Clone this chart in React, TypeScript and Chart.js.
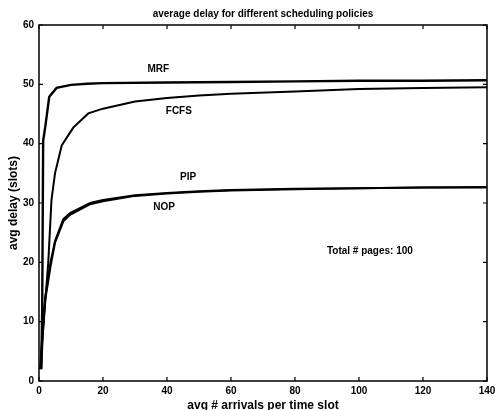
import { useEffect, useRef } from "react";
import { Chart, registerables } from "chart.js";

Chart.register(...registerables);

const titleText = "average delay for different scheduling policies";
const xTitle = "avg # arrivals per time slot";
const yTitle = "avg delay (slots)";

const xTicks = [0, 20, 40, 60, 80, 100, 120, 140];
const yTicks = [0, 10, 20, 30, 40, 50, 60];

const mrfX = [0.7, 1, 1.3, 2, 3.2, 5.5, 10, 15, 20, 40, 60, 80, 100, 120, 140];
const mrfY = [2, 12, 40.5, 43, 47.9, 49.4, 49.9, 50.1, 50.2, 50.3, 50.4, 50.5, 50.6, 50.6, 50.7];

const fcfsX = [0.7, 1.2, 1.9, 2.9, 3.9, 5, 7.1, 10.7, 15.4, 20, 30, 40, 50, 60, 80, 100, 120, 140];
const fcfsY = [2, 8, 13, 20, 30.5, 35, 39.7, 42.7, 45.1, 45.9, 47.1, 47.7, 48.1, 48.4, 48.8, 49.2, 49.4, 49.5];

const pipX = [0.4, 0.9, 1.9, 3.6, 5, 7.6, 9.7, 16, 20, 30, 40, 50, 60, 80, 100, 120, 140];
const pipY = [2, 6.5, 14, 20, 23.6, 27.3, 28.3, 30, 30.5, 31.3, 31.7, 32, 32.2, 32.4, 32.5, 32.6, 32.7];

const nopX = [0.4, 0.9, 1.9, 3.6, 5, 7.6, 9.7, 16, 20, 30, 40, 50, 60, 80, 100, 120, 140];
const nopY = [2, 6, 13.5, 19.3, 23.3, 26.9, 28, 29.8, 30.3, 31.2, 31.6, 31.9, 32.1, 32.3, 32.5, 32.6, 32.6];

const noteText = ["MRF", "FCFS", "PIP", "NOP", "Total # pages: 100"];
const noteX = [37.3, 43.7, 46.6, 39.1, 103.4];
const noteY = [52.5, 45.4, 34.3, 29.3, 21.8];

const FONT = '"Liberation Sans", Arial, Helvetica, sans-serif';

function pts(xs: number[], ys: number[]) {
  return xs.map((x, i) => ({ x, y: ys[i] }));
}

const framePlugin = {
  id: "frame",
  afterDatasetsDraw(chart: any) {
    const { ctx, chartArea: a, scales } = chart;
    const x = scales.x;
    const y = scales.y;
    ctx.save();
    ctx.strokeStyle = "#000";
    ctx.lineWidth = 1.5;
    ctx.strokeRect(a.left, a.top, a.right - a.left, a.bottom - a.top);
    ctx.lineWidth = 1.2;
    ctx.beginPath();
    const tl = 4;
    for (const v of xTicks) {
      const px = x.getPixelForValue(v);
      ctx.moveTo(px, a.bottom);
      ctx.lineTo(px, a.bottom - tl);
      ctx.moveTo(px, a.top);
      ctx.lineTo(px, a.top + tl);
    }
    for (const v of yTicks) {
      const py = y.getPixelForValue(v);
      ctx.moveTo(a.left, py);
      ctx.lineTo(a.left + tl, py);
      ctx.moveTo(a.right, py);
      ctx.lineTo(a.right - tl, py);
    }
    ctx.stroke();

    ctx.fillStyle = "#000";
    ctx.textAlign = "center";
    ctx.textBaseline = "middle";
    ctx.font = "bold 10px " + FONT;
    for (let i = 0; i < noteText.length; i++) {
      ctx.fillText(noteText[i], x.getPixelForValue(noteX[i]), y.getPixelForValue(noteY[i]));
    }
    ctx.font = "bold 10px " + FONT;
    ctx.fillText(titleText, (a.left + a.right) / 2, 14);
    ctx.restore();
  },
};

export default function App() {
  const ref = useRef<HTMLCanvasElement | null>(null);

  useEffect(() => {
    document.body.style.margin = "0";
    const canvas = ref.current;
    if (!canvas) return;
    const line = (label: string, data: any[], w: number) => ({
      label,
      data,
      borderColor: "#000",
      backgroundColor: "#000",
      borderWidth: w,
      pointRadius: 0,
      tension: 0,
      fill: false,
    });
    const chart = new Chart(canvas, {
      type: "line",
      data: {
        datasets: [
          line("MRF", pts(mrfX, mrfY), 2.4),
          line("FCFS", pts(fcfsX, fcfsY), 2),
          line("PIP", pts(pipX, pipY), 2),
          line("NOP", pts(nopX, nopY), 2),
        ],
      },
      options: {
        responsive: false,
        animation: false,
        layout: { padding: { top: 25, right: 9, left: 0, bottom: 0 } },
        plugins: {
          legend: { display: false },
          tooltip: { enabled: false },
          title: { display: false },
        },
        scales: {
          x: {
            type: "linear",
            min: 0,
            max: 140,
            afterBuildTicks: (s: any) => {
              s.ticks = xTicks.map((v) => ({ value: v }));
            },
            afterFit: (s: any) => {
              s.height = 29;
              s.paddingRight = 0;
              s.paddingLeft = 0;
            },
            grid: { display: false, drawTicks: false },
            border: { display: false },
            ticks: {
              color: "#000",
              padding: 4,
              maxRotation: 0,
              autoSkip: false,
              font: { family: FONT, size: 10, weight: "bold" },
            },
            title: {
              display: true,
              text: xTitle,
              color: "#000",
              padding: { top: 0, bottom: -3 },
              font: { family: FONT, size: 12, weight: "bold" },
            },
          },
          y: {
            type: "linear",
            min: 0,
            max: 60,
            afterBuildTicks: (s: any) => {
              s.ticks = yTicks.map((v) => ({ value: v }));
            },
            afterFit: (s: any) => {
              s.width = 39;
              s.paddingTop = 0;
              s.paddingBottom = 0;
            },
            grid: { display: false, drawTicks: false },
            border: { display: false },
            ticks: {
              color: "#000",
              padding: 5,
              autoSkip: false,
              font: { family: FONT, size: 10, weight: "bold" },
            },
            title: {
              display: true,
              text: yTitle,
              color: "#000",
              padding: { top: 6, bottom: 0 },
              font: { family: FONT, size: 12, weight: "bold" },
            },
          },
        },
      },
      plugins: [framePlugin],
    } as any);
    return () => chart.destroy();
  }, []);

  return (
    <div style={{ width: 496, height: 410, background: "#fff" }}>
      <canvas ref={ref} width={496} height={410} style={{ display: "block" }} />
    </div>
  );
}
